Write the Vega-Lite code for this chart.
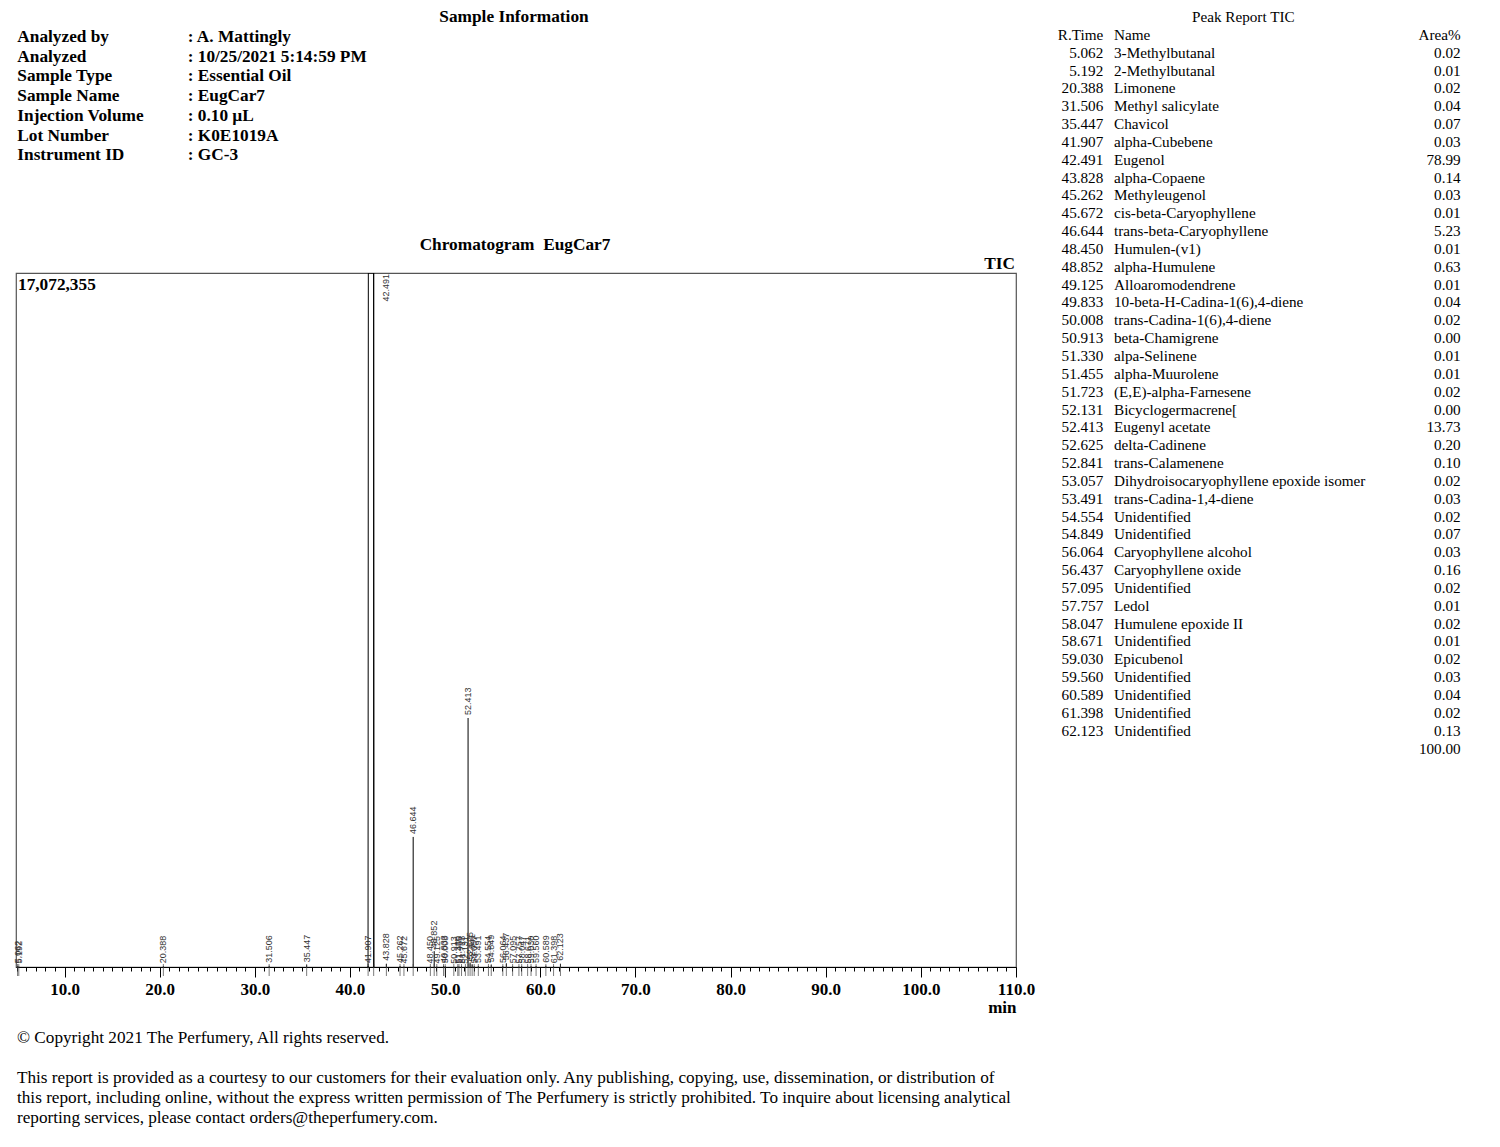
{
  "$schema": "https://vega.github.io/schema/vega-lite/v6.json",
  "padding": {"left": 12, "top": 0, "right": 0, "bottom": 0},
  "background": "white",
  "config": {"view": {"stroke": null}, "font": "Liberation Serif"},
  "datasets": {
    "peaks": [
      {"rt": 5.062, "name": "3-Methylbutanal", "area": 0.02, "height": 20000},
      {"rt": 5.192, "name": "2-Methylbutanal", "area": 0.01, "height": 12000},
      {"rt": 20.388, "name": "Limonene", "area": 0.02, "height": 20000},
      {"rt": 31.506, "name": "Methyl salicylate", "area": 0.04, "height": 30000},
      {"rt": 35.447, "name": "Chavicol", "area": 0.07, "height": 45000},
      {"rt": 41.907, "name": "alpha-Cubebene", "area": 0.03, "height": 25000},
      {"rt": 42.491, "name": "Eugenol", "area": 78.99, "height": 17072355},
      {"rt": 43.828, "name": "alpha-Copaene", "area": 0.14, "height": 80000},
      {"rt": 45.262, "name": "Methyleugenol", "area": 0.03, "height": 25000},
      {"rt": 45.672, "name": "cis-beta-Caryophyllene", "area": 0.01, "height": 12000},
      {"rt": 46.644, "name": "trans-beta-Caryophyllene", "area": 5.23, "height": 3200000},
      {"rt": 48.45, "name": "Humulen-(v1)", "area": 0.01, "height": 12000},
      {"rt": 48.852, "name": "alpha-Humulene", "area": 0.63, "height": 390000},
      {"rt": 49.125, "name": "Alloaromodendrene", "area": 0.01, "height": 12000},
      {"rt": 49.833, "name": "10-beta-H-Cadina-1(6),4-diene", "area": 0.04, "height": 30000},
      {"rt": 50.008, "name": "trans-Cadina-1(6),4-diene", "area": 0.02, "height": 20000},
      {"rt": 50.913, "name": "beta-Chamigrene", "area": 0.0, "height": 5000},
      {"rt": 51.33, "name": "alpa-Selinene", "area": 0.01, "height": 12000},
      {"rt": 51.455, "name": "alpha-Muurolene", "area": 0.01, "height": 12000},
      {"rt": 51.723, "name": "(E,E)-alpha-Farnesene", "area": 0.02, "height": 20000},
      {"rt": 52.131, "name": "Bicyclogermacrene[", "area": 0.0, "height": 5000},
      {"rt": 52.413, "name": "Eugenyl acetate", "area": 13.73, "height": 6125000},
      {"rt": 52.625, "name": "delta-Cadinene", "area": 0.2, "height": 110000},
      {"rt": 52.841, "name": "trans-Calamenene", "area": 0.1, "height": 60000},
      {"rt": 53.057, "name": "Dihydroisocaryophyllene epoxide isomer", "area": 0.02, "height": 20000},
      {"rt": 53.491, "name": "trans-Cadina-1,4-diene", "area": 0.03, "height": 25000},
      {"rt": 54.554, "name": "Unidentified", "area": 0.02, "height": 20000},
      {"rt": 54.849, "name": "Unidentified", "area": 0.07, "height": 45000},
      {"rt": 56.064, "name": "Caryophyllene alcohol", "area": 0.03, "height": 25000},
      {"rt": 56.437, "name": "Caryophyllene oxide", "area": 0.16, "height": 90000},
      {"rt": 57.095, "name": "Unidentified", "area": 0.02, "height": 20000},
      {"rt": 57.757, "name": "Ledol", "area": 0.01, "height": 12000},
      {"rt": 58.047, "name": "Humulene epoxide II", "area": 0.02, "height": 20000},
      {"rt": 58.671, "name": "Unidentified", "area": 0.01, "height": 12000},
      {"rt": 59.03, "name": "Epicubenol", "area": 0.02, "height": 20000},
      {"rt": 59.56, "name": "Unidentified", "area": 0.03, "height": 25000},
      {"rt": 60.589, "name": "Unidentified", "area": 0.04, "height": 30000},
      {"rt": 61.398, "name": "Unidentified", "area": 0.02, "height": 20000},
      {"rt": 62.123, "name": "Unidentified", "area": 0.13, "height": 80000}
    ],
    "mainPeak": [
      {"t": 41.9, "i": 0},
      {"t": 41.93, "i": 17072355},
      {"t": 42.49, "i": 17072355},
      {"t": 42.52, "i": 0}
    ],
    "maxSignal": [{"max": 17072355}],
    "info": [
      {"label": "Analyzed by", "value": ": A. Mattingly"},
      {"label": "Analyzed", "value": ": 10/25/2021 5:14:59 PM"},
      {"label": "Sample Type", "value": ": Essential Oil"},
      {"label": "Sample Name", "value": ": EugCar7"},
      {"label": "Injection Volume", "value": ": 0.10 µL"},
      {"label": "Lot Number", "value": ": K0E1019A"},
      {"label": "Instrument ID", "value": ": GC-3"}
    ],
    "notes": [
      {"line": "© Copyright 2021 The Perfumery, All rights reserved."},
      {"line": ""},
      {"line": "This report is provided as a courtesy to our customers for their evaluation only. Any publishing, copying, use, dissemination, or distribution of"},
      {"line": "this report, including online, without the express written permission of The Perfumery is strictly prohibited. To inquire about licensing analytical"},
      {"line": "reporting services, please contact orders@theperfumery.com."}
    ]
  },
  "bounds": "flush",
  "columns": 2,
  "spacing": {"row": 0, "column": 24},
  "concat": [
    {
      "width": 1000,
      "height": 273,
      "data": {"name": "info"},
      "transform": [{"window": [{"op": "row_number", "as": "row"}]}],
      "layer": [
        {
          "mark": {"type": "text", "align": "left", "baseline": "middle", "font": "Liberation Serif", "fontSize": 17.3, "fontWeight": "bold", "color": "black"},
          "encoding": {
            "x": {"value": 1.3},
            "y": {"field": "row", "type": "quantitative", "scale": {"domain": [0, 7], "range": [17, 155.3], "zero": false, "nice": false}, "axis": null},
            "text": {"field": "label"}
          }
        },
        {
          "mark": {"type": "text", "align": "left", "baseline": "middle", "font": "Liberation Serif", "fontSize": 17.3, "fontWeight": "bold", "color": "black"},
          "encoding": {
            "x": {"value": 171.7},
            "y": {"field": "row", "type": "quantitative"},
            "text": {"field": "value"}
          }
        },
        {
          "data": {"values": [{}]},
          "mark": {"type": "text", "align": "center", "baseline": "middle", "font": "Liberation Serif", "fontSize": 17.3, "fontWeight": "bold", "color": "black", "text": "Sample Information"},
          "encoding": {
            "x": {"value": 498},
            "y": {"datum": 0, "type": "quantitative"}
          }
        }
      ]
    },
    {
      "width": 440,
      "height": 273,
      "layer": [
        {
          "data": {"name": "peaks"},
          "transform": [{"window": [{"op": "row_number", "as": "row"}]}],
          "mark": {"type": "text", "align": "right", "baseline": "middle", "font": "Liberation Serif", "fontSize": 15.2, "color": "black"},
          "encoding": {
            "x": {"value": 63.3},
            "y": {"field": "row", "type": "quantitative", "scale": {"domain": [-1, 40], "range": [17.0, 748.5], "zero": false, "nice": false}, "axis": null},
            "text": {"field": "rt", "type": "quantitative", "format": ".3f"}
          }
        },
        {
          "data": {"name": "peaks"},
          "transform": [{"window": [{"op": "row_number", "as": "row"}]}],
          "mark": {"type": "text", "align": "left", "baseline": "middle", "font": "Liberation Serif", "fontSize": 15.2, "color": "black"},
          "encoding": {
            "x": {"value": 74},
            "y": {"field": "row", "type": "quantitative"},
            "text": {"field": "name"}
          }
        },
        {
          "data": {"name": "peaks"},
          "transform": [{"window": [{"op": "row_number", "as": "row"}]}],
          "mark": {"type": "text", "align": "right", "baseline": "middle", "font": "Liberation Serif", "fontSize": 15.2, "color": "black"},
          "encoding": {
            "x": {"value": 420.7},
            "y": {"field": "row", "type": "quantitative"},
            "text": {"field": "area", "type": "quantitative", "format": ".2f"}
          }
        },
        {
          "data": {"name": "peaks"},
          "transform": [{"aggregate": [{"op": "sum", "field": "area", "as": "total"}]}],
          "mark": {"type": "text", "align": "right", "baseline": "middle", "font": "Liberation Serif", "fontSize": 15.2, "color": "black"},
          "encoding": {
            "x": {"value": 420.7},
            "y": {"datum": 40, "type": "quantitative"},
            "text": {"field": "total", "type": "quantitative", "format": ".2f"}
          }
        },
        {
          "data": {"values": [{}]},
          "mark": {"type": "text", "align": "right", "baseline": "middle", "font": "Liberation Serif", "fontSize": 15.2, "color": "black", "text": "R.Time"},
          "encoding": {"x": {"value": 63.3}, "y": {"datum": 0, "type": "quantitative"}}
        },
        {
          "data": {"values": [{}]},
          "mark": {"type": "text", "align": "left", "baseline": "middle", "font": "Liberation Serif", "fontSize": 15.2, "color": "black", "text": "Name"},
          "encoding": {"x": {"value": 74}, "y": {"datum": 0, "type": "quantitative"}}
        },
        {
          "data": {"values": [{}]},
          "mark": {"type": "text", "align": "right", "baseline": "middle", "font": "Liberation Serif", "fontSize": 15.2, "color": "black", "text": "Area%"},
          "encoding": {"x": {"value": 420.7}, "y": {"datum": 0, "type": "quantitative"}}
        },
        {
          "data": {"values": [{}]},
          "mark": {"type": "text", "align": "center", "baseline": "middle", "font": "Liberation Serif", "fontSize": 15.2, "color": "black", "text": "Peak Report TIC"},
          "encoding": {"x": {"value": 203.3}, "y": {"datum": -1, "type": "quantitative"}}
        }
      ]
    },
    {
      "width": 1000,
      "height": 694,
      "view": {"stroke": "#555", "strokeWidth": 1.2},
      "resolve": {"axis": {"x": "independent"}},
      "layer": [
        {
          "data": {"name": "peaks"},
          "mark": {"type": "rule", "clip": true, "color": "black", "strokeWidth": 1},
          "encoding": {
            "x": {
              "field": "rt", "type": "quantitative",
              "scale": {"domain": [4.9, 110], "nice": false, "zero": false},
              "axis": {
                "orient": "bottom",
                "title": "min", "titleFont": "Liberation Serif", "titleFontSize": 17, "titleFontWeight": "bold", "titleColor": "black",
                "titleAnchor": "end", "titleAlign": "right", "titlePadding": 2,
                "values": [10, 20, 30, 40, 50, 60, 70, 80, 90, 100, 110],
                "format": ".1f",
                "labelFont": "Liberation Serif", "labelFontSize": 17, "labelFontWeight": "bold", "labelColor": "black",
                "labelOverlap": false, "labelBound": false, "labelFlush": false, "labelPadding": 4,
                "tickSize": 10, "tickColor": "black", "domainColor": "black", "grid": false
              }
            },
            "y": {"field": "height", "type": "quantitative", "scale": {"domain": [0, 17072355], "nice": false}, "axis": null},
            "y2": {"datum": 0}
          }
        },
        {
          "data": {"name": "peaks"},
          "mark": {"type": "tick", "orient": "vertical", "size": 12, "thickness": 1, "color": "#444", "yOffset": 3},
          "encoding": {
            "x": {
              "field": "rt", "type": "quantitative",
              "axis": {
                "orient": "bottom", "title": null, "labels": false, "domain": false, "grid": false,
                "values": [5,6,7,8,9,11,12,13,14,15,16,17,18,19,21,22,23,24,25,26,27,28,29,31,32,33,34,35,36,37,38,39,41,42,43,44,45,46,47,48,49,51,52,53,54,55,56,57,58,59,61,62,63,64,65,66,67,68,69,71,72,73,74,75,76,77,78,79,81,82,83,84,85,86,87,88,89,91,92,93,94,95,96,97,98,99,101,102,103,104,105,106,107,108,109],
                "tickSize": 4, "tickColor": "black"
              }
            },
            "y": {"datum": 0, "type": "quantitative"}
          }
        },
        {
          "data": {"name": "mainPeak"},
          "mark": {"type": "line", "clip": true, "color": "black", "strokeWidth": 1},
          "encoding": {
            "x": {"field": "t", "type": "quantitative", "axis": null},
            "y": {"field": "i", "type": "quantitative"}
          }
        },
        {
          "data": {"name": "peaks"},
          "transform": [{"filter": "datum.height < 17000000"}],
          "mark": {"type": "text", "angle": 270, "align": "left", "baseline": "middle", "dx": 3, "font": "Liberation Sans, Arial", "fontSize": 9, "color": "#333"},
          "encoding": {
            "x": {"field": "rt", "type": "quantitative", "axis": null},
            "y": {"field": "height", "type": "quantitative"},
            "text": {"field": "rt", "type": "quantitative", "format": ".3f"}
          }
        },
        {
          "data": {"name": "peaks"},
          "transform": [{"filter": "datum.height >= 17000000"}],
          "mark": {"type": "text", "angle": 270, "align": "right", "baseline": "middle", "dx": -1, "dy": 12.5, "font": "Liberation Sans, Arial", "fontSize": 9, "color": "#333"},
          "encoding": {
            "x": {"field": "rt", "type": "quantitative", "axis": null},
            "y": {"field": "height", "type": "quantitative"},
            "text": {"field": "rt", "type": "quantitative", "format": ".3f"}
          }
        },
        {
          "data": {"name": "maxSignal"},
          "mark": {"type": "text", "align": "left", "baseline": "middle", "dx": 2, "dy": 12, "font": "Liberation Serif", "fontSize": 17.3, "fontWeight": "bold", "color": "black"},
          "encoding": {
            "x": {"datum": 4.9, "type": "quantitative", "axis": null},
            "y": {"field": "max", "type": "quantitative"},
            "text": {"field": "max", "type": "quantitative", "format": ",d"}
          }
        },
        {
          "data": {"name": "maxSignal"},
          "mark": {"type": "text", "align": "right", "baseline": "middle", "dx": -1, "dy": -9.5, "font": "Liberation Serif", "fontSize": 17.3, "fontWeight": "bold", "color": "black", "text": "TIC"},
          "encoding": {
            "x": {"datum": 110, "type": "quantitative", "axis": null},
            "y": {"field": "max", "type": "quantitative"}
          }
        },
        {
          "data": {"name": "maxSignal"},
          "mark": {"type": "text", "align": "center", "baseline": "middle", "dy": -28, "font": "Liberation Serif", "fontSize": 17.3, "fontWeight": "bold", "color": "black", "text": "Chromatogram\u00a0 EugCar7"},
          "encoding": {
            "x": {"value": 499},
            "y": {"field": "max", "type": "quantitative"}
          }
        }
      ]
    },
    {
      "width": 1,
      "height": 1,
      "data": {"values": []},
      "mark": {"type": "point"},
      "encoding": {}
    },
    {
      "width": 1000,
      "height": 180,
      "data": {"name": "notes"},
      "transform": [{"window": [{"op": "row_number", "as": "row"}]}],
      "mark": {"type": "text", "align": "left", "baseline": "middle", "font": "Liberation Serif", "fontSize": 17.2, "color": "black"},
      "encoding": {
        "x": {"value": 1},
        "y": {"field": "row", "type": "quantitative", "scale": {"domain": [1, 5], "range": [71.3, 150.8], "zero": false, "nice": false}, "axis": null},
        "text": {"field": "line"}
      }
    }
  ]
}
